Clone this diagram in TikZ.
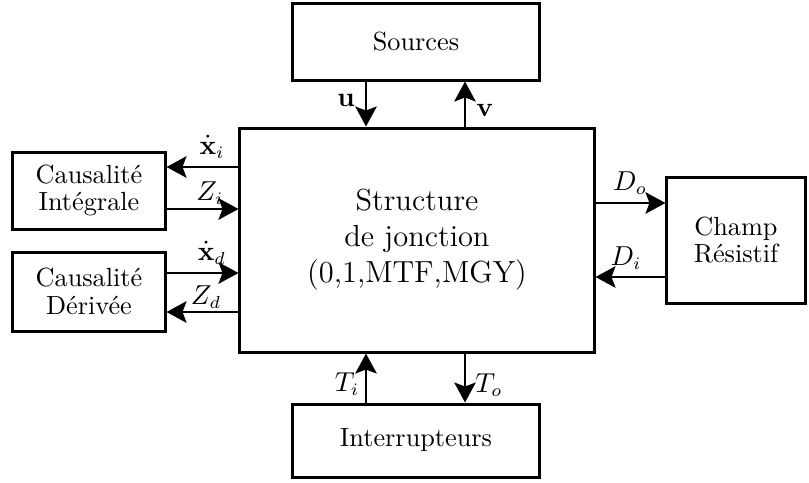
\documentclass[tikz,border=0pt]{standalone}
\usetikzlibrary{arrows.meta}
\begin{document}
\begin{tikzpicture}[x=0.4pt,y=-0.4pt,
  blk/.style={draw,line width=1.2pt,inner sep=0pt,align=center,
    font=\fontsize{10.5}{11}\selectfont},
  flow/.style={line width=0.9pt,-{Stealth[length=8pt,width=8.6pt,inset=1.6pt]}},
  lbl/.style={inner sep=0pt,font=\fontsize{10.5}{12}\selectfont}]
\useasboundingbox (0,0) rectangle (809,482);

% blocks
\node[blk,minimum width=141.6pt,minimum height=89.6pt,
      font=\fontsize{12.2}{14.4}\selectfont] (jn) at (417,240)
  {Structure\\de jonction\\(0,1,MTF,MGY)};
\node[blk,minimum width=98.4pt,minimum height=30.8pt] (src) at (416,41.5) {Sources};
\node[blk,minimum width=98.4pt,minimum height=29.2pt] (sw) at (416,440.5) {Interrupteurs};
\node[blk,minimum width=60.8pt,minimum height=30.8pt] (ci) at (89,190.5) {Causalité\\Intégrale};
\node[blk,minimum width=60.8pt,minimum height=31.6pt] (cd) at (89,291.5) {Causalité\\Dérivée};
\node[blk,minimum width=55.2pt,minimum height=50.4pt] (rs) at (736,240) {Champ\\Résistif};

% connector lanes
\coordinate (yxi) at (0,167);
\coordinate (yzi) at (0,209);
\coordinate (yxd) at (0,273);
\coordinate (yzd) at (0,312);
\coordinate (ydo) at (0,203);
\coordinate (ydi) at (0,277);
\coordinate (xl) at (366,0);
\coordinate (xr) at (465,0);

% connectors
\draw[flow] (jn.west |- yxi) -- (ci.east |- yxi);
\draw[flow] (ci.east |- yzi) -- (jn.west |- yzi);
\draw[flow] (cd.east |- yxd) -- (jn.west |- yxd);
\draw[flow] (jn.west |- yzd) -- (cd.east |- yzd);
\draw[flow] (jn.east |- ydo) -- (rs.west |- ydo);
\draw[flow] (rs.west |- ydi) -- (jn.east |- ydi);
\draw[flow] (src.south -| xl) -- (jn.north -| xl);
\draw[flow] (jn.north -| xr) -- (src.south -| xr);
\draw[flow] (sw.north -| xl) -- (jn.south -| xl);
\draw[flow] (jn.south -| xr) -- (sw.north -| xr);

% labels
\node[lbl] (lxi) at (212,147) {$\dot{\mathbf{x}}_i$};
\node[lbl] (lzi) at (210,193) {$Z_i$};
\node[lbl] (lxd) at (212,253) {$\dot{\mathbf{x}}_d$};
\node[lbl] (lzd) at (206,297) {$Z_d$};
\node[lbl] (ldo) at (630,183) {$D_o$};
\node[lbl] (ldi) at (626,258) {$D_i$};
\node[lbl] (lu) at (346,100) {$\mathbf{u}$};
\node[lbl] (lv) at (485,110) {$\mathbf{v}$};
\node[lbl] (lti) at (347,384) {$T_i$};
\node[lbl] (lto) at (489,385) {$T_o$};
\end{tikzpicture}
\end{document}
